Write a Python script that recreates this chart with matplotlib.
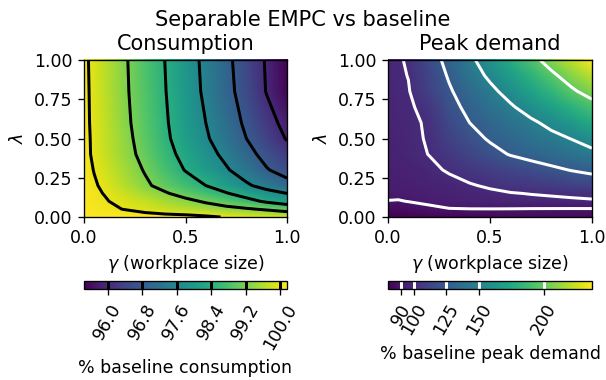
import numpy as np
import matplotlib
matplotlib.use('Agg')
import matplotlib.pyplot as plt
from matplotlib.image import NonUniformImage
from matplotlib.ticker import FormatStrFormatter

# ---------------- data ----------------
gamma_c = [0, 0.05, 0.1, 0.2, 0.3, 0.4, 0.5, 0.6, 0.7, 0.8, 0.9, 1.0]
lambda_c = [0, 0.05, 0.1, 0.15, 0.2, 0.3, 0.4, 0.5, 0.6, 0.8, 1.0]
consumption = [
    [100.16, 100.16, 100.16, 100.16, 100.16, 100.15, 100.15, 100.08, 99.97, 99.92, 99.86, 99.80],
    [100.13, 100.10, 100.06, 99.99, 99.88, 99.75, 99.62, 99.50, 99.38, 99.27, 99.12, 98.92],
    [100.11, 100.08, 100.03, 99.90, 99.72, 99.53, 99.35, 99.13, 98.90, 98.62, 98.30, 98.05],
    [100.11, 100.05, 99.99, 99.76, 99.50, 99.26, 98.98, 98.72, 98.45, 98.12, 97.85, 97.60],
    [100.10, 100.03, 99.95, 99.62, 99.30, 99.00, 98.70, 98.40, 98.05, 97.70, 97.35, 97.03],
    [100.10, 99.99, 99.83, 99.50, 99.16, 98.76, 98.37, 98.02, 97.67, 97.26, 96.84, 96.55],
    [100.11, 99.94, 99.76, 99.41, 99.03, 98.61, 98.21, 97.84, 97.44, 97.00, 96.60, 96.24],
    [100.11, 99.93, 99.74, 99.37, 98.96, 98.51, 98.09, 97.68, 97.24, 96.80, 96.38, 95.96],
    [100.11, 99.91, 99.72, 99.33, 98.91, 98.47, 98.03, 97.60, 97.14, 96.69, 96.24, 95.80],
    [100.10, 99.90, 99.69, 99.29, 98.86, 98.42, 97.96, 97.48, 97.01, 96.51, 95.97, 95.50],
    [100.09, 99.885, 99.68, 99.27, 98.83, 98.39, 97.92, 97.44, 96.96, 96.45, 95.94, 95.45],
]
consumption_levels = [96.0, 96.8, 97.6, 98.4, 99.2, 100.0]

gamma_p = [0, 0.05, 0.1, 0.2, 0.3, 0.4, 0.5, 0.6, 0.7, 0.8, 0.9, 1.0]
lambda_p = [0, 0.05, 0.1, 0.15, 0.2, 0.3, 0.4, 0.5, 0.6, 0.7, 0.8, 0.9, 1.0]
peak = [
    [80.0, 80.5, 81.0, 82.0, 83.0, 83.5, 84.0, 84.5, 85.0, 85.0, 85.5, 85.5],
    [85.0, 85.3, 86.0, 87.7, 89.6, 89.8, 89.8, 89.7, 89.5, 89.4, 89.3, 89.3],
    [89.8, 89.5, 90.2, 92.0, 93.5, 94.5, 95.5, 96.3, 97.0, 97.6, 98.3, 98.8],
    [91.5, 92.0, 92.5, 93.5, 95.0, 96.5, 97.8, 99.4, 100.4, 101.2, 102.0, 103.0],
    [92.5, 93.0, 93.6, 95.0, 96.5, 99.0, 101.5, 104.0, 106.2, 108.5, 110.7, 113.0],
    [93.5, 94.3, 95.2, 97.5, 101.2, 105.2, 109.3, 113.3, 117.3, 121.4, 125.8, 129.4],
    [94.5, 95.5, 96.8, 100.2, 106.0, 112.8, 119.5, 126.0, 130.4, 134.9, 139.4, 144.0],
    [95.0, 96.2, 97.3, 101.0, 110.4, 119.1, 126.9, 132.8, 138.7, 144.6, 150.6, 159.7],
    [95.5, 96.8, 97.5, 101.5, 114.6, 125.0, 132.0, 139.3, 146.4, 155.0, 165.4, 176.0],
    [96.0, 97.3, 97.8, 105.0, 119.2, 129.5, 138.5, 147.5, 158.2, 169.4, 180.6, 192.0],
    [96.5, 97.8, 99.2, 111.0, 123.0, 134.3, 145.2, 157.0, 170.3, 183.5, 196.7, 208.0],
    [96.8, 98.2, 100.3, 113.0, 126.8, 140.3, 153.5, 167.5, 181.5, 195.7, 209.0, 222.0],
    [97.0, 98.5, 101.5, 116.0, 130.7, 145.5, 161.2, 177.2, 193.1, 208.2, 222.6, 237.0],
]
peak_levels = [90, 100, 125, 150, 200]

x_ticks = [0.0, 0.5, 1.0]
y_ticks = [0.0, 0.25, 0.5, 0.75, 1.0]

# ---------------- figure ----------------
W, H = 606, 380
DPI = 120
plt.rcParams['font.size'] = 10.4
fig = plt.figure(figsize=(W / DPI, H / DPI), dpi=DPI)


def px(x0, y0, x1, y1):
    return [x0 / W, 1 - y1 / H, (x1 - x0) / W, (y1 - y0) / H]


ax1 = fig.add_axes(px(84, 60, 287, 217))
ax2 = fig.add_axes(px(388, 60, 592, 217))
cax1 = fig.add_axes(px(84, 281, 287, 289))
cax2 = fig.add_axes(px(388, 281, 592, 289))

panels = [
    (ax1, cax1, gamma_c, lambda_c, consumption, consumption_levels, 'black',
     'Consumption', '% baseline consumption', '%.1f'),
    (ax2, cax2, gamma_p, lambda_p, peak, peak_levels, 'white',
     'Peak demand', '% baseline peak demand', '%d'),
]

for ax, cax, gx, ly, z, levels, lc, title, clabel, fmt in panels:
    Z = np.array(z)
    im = NonUniformImage(ax, interpolation='bilinear', extent=(0, 1, 0, 1),
                         cmap='viridis')
    im.set_data(np.array(gx), np.array(ly), Z)
    im.set_clim(Z.min(), Z.max())
    ax.add_image(im)
    cs = ax.contour(gx, ly, Z, levels=levels, colors=lc, linewidths=1.8)
    ax.set_xlim(0, 1)
    ax.set_ylim(0, 1)
    ax.set_xticks(x_ticks)
    ax.set_yticks(y_ticks)
    ax.xaxis.set_major_formatter(FormatStrFormatter('%.1f'))
    ax.yaxis.set_major_formatter(FormatStrFormatter('%.2f'))
    ax.set_xlabel(r'$\gamma$ (workplace size)')
    ax.set_ylabel(r'$\lambda$')
    ax.set_title(title, fontsize=12.5)
    cb = fig.colorbar(im, cax=cax, orientation='horizontal', ticks=levels)
    cb.add_lines(cs)
    cb.ax.xaxis.set_major_formatter(FormatStrFormatter(fmt))
    for lab in cb.ax.get_xticklabels():
        lab.set_rotation(60)
    cb.set_label(clabel)

fig.text(0.5, 1 - 20 / H, 'Separable EMPC vs baseline', ha='center', va='center',
         fontsize=12.6)

fig.savefig('out.png', dpi=DPI)
